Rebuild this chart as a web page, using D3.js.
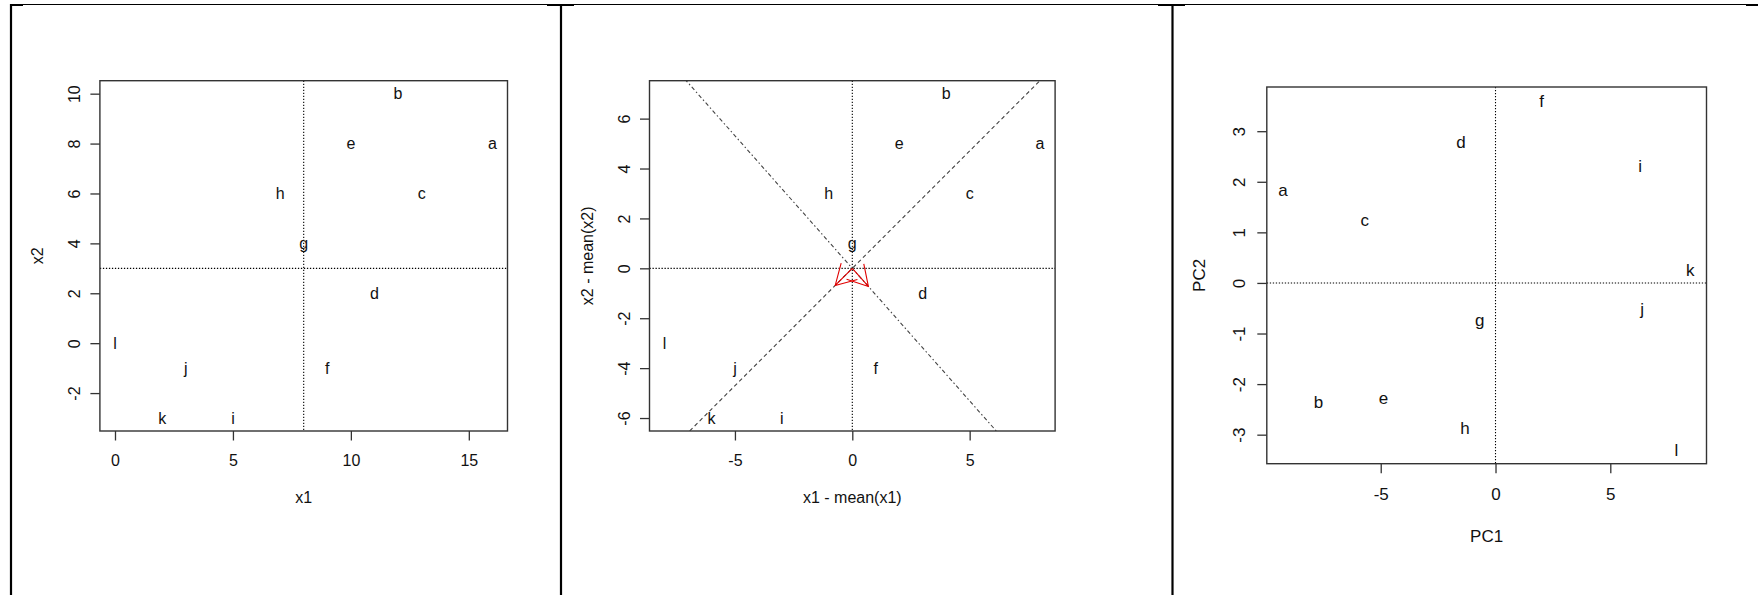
<!DOCTYPE html>
<html><head><meta charset="utf-8">
<script src="https://cdn.jsdelivr.net/npm/d3@7"></script>
<style>
html,body{margin:0;padding:0;background:#fff;}
svg text{font-family:"Liberation Sans",Arial,sans-serif;fill:#111;}
</style></head>
<body>
<svg id="c" width="1758" height="595"></svg>
<script>
// ---- data ----
const labels = ["a","b","c","d","e","f","g","h","i","j","k","l"];
const x1 = [16,12,13,11,10,9,8,7,5,3,2,0];
const x2 = [8,10,6,2,8,-1,4,6,-3,-1,-3,0];
const x1Mean = 8, x2Mean = 3;
const x1c = [8,4,5,3,2,1,0,-1,-3,-5,-6,-8];
const x2c = [5,7,3,-1,5,-4,1,3,-6,-4,-6,-3];
const pc1 = [-9.253,-7.710,-5.697,-1.499,-4.883,2.013,-0.685,-1.328,6.297,6.383,8.481,7.882];
const pc2 = [1.842,-2.356,1.242,2.784,-2.271,3.598,-0.728,-2.870,2.313,-0.514,0.257,-3.298];
const loadPC1 = [-0.728,-0.685];
const loadPC2 = [0.685,-0.728];
const ticks1x = [0,5,10,15], ticks1y = [-2,0,2,4,6,8,10];
const ticks2x = [-5,0,5],   ticks2y = [-6,-4,-2,0,2,4,6];
const ticks3x = [-5,0,5],   ticks3y = [-3,-2,-1,0,1,2,3];

const svg = d3.select("#c");
const fmt = d => String(d);

// ---- frame lines (screenshot borders) ----
const fr = svg.append("g");
fr.append("line").attr("x1",11).attr("x2",1748).attr("y1",4.5).attr("y2",4.5).attr("stroke","#000").attr("stroke-width",1.2);
[11,561,1172.5].forEach(x=>{
  fr.append("line").attr("x1",x).attr("x2",x).attr("y1",4).attr("y2",595).attr("stroke","#000").attr("stroke-width",2.2);
});
[[10,23],[547,574],[1158,1185],[1746,1758]].forEach(s=>{
  fr.append("rect").attr("x",s[0]).attr("y",4).attr("width",s[1]-s[0]).attr("height",2).attr("fill","#000");
});

function pad(ext){const r=ext[1]-ext[0];return [ext[0]-0.04*r, ext[1]+0.04*r];}

function panel(o){
  const g = svg.append("g");
  const xs = d3.scaleLinear().domain(pad(d3.extent(o.xv))).range([o.L,o.R]);
  const ys = d3.scaleLinear().domain(pad(d3.extent(o.yv))).range([o.B,o.T]);
  const fs = o.fs;
  const clipId = "clip"+o.id;
  g.append("clipPath").attr("id",clipId).append("rect")
    .attr("x",o.L).attr("y",o.T).attr("width",o.R-o.L).attr("height",o.B-o.T);
  const inner = g.append("g").attr("clip-path",`url(#${clipId})`);

  // reference lines (dotted)
  inner.append("line").attr("x1",xs(o.vx)).attr("x2",xs(o.vx)).attr("y1",o.T).attr("y2",o.B)
    .attr("stroke","#000").attr("stroke-width",1.1).attr("stroke-dasharray","1.3,1.7");
  inner.append("line").attr("x1",o.L).attr("x2",o.R).attr("y1",ys(o.hy)).attr("y2",ys(o.hy))
    .attr("stroke","#000").attr("stroke-width",1.1).attr("stroke-dasharray","1.3,1.7");

  if(o.extra) o.extra(inner, g, xs, ys);

  // labels as points
  g.append("g").selectAll("text").data(labels).join("text")
    .attr("x",(d,i)=>xs(o.xv[i])).attr("y",(d,i)=>ys(o.yv[i]))
    .attr("dy","0.36em").attr("text-anchor","middle").attr("font-size",fs).text(d=>d);

  // axes
  const ax = g.append("g").attr("transform",`translate(0,${o.B})`)
    .call(d3.axisBottom(xs).tickValues(o.tx).tickSize(o.tl).tickFormat(fmt));
  ax.select(".domain").remove();
  ax.selectAll("line").attr("stroke","#333").attr("stroke-width",1.3);
  ax.selectAll("text").attr("y",o.xlo).attr("dy",null).attr("font-size",fs).attr("fill","#111")
    .attr("font-family",'"Liberation Sans",Arial,sans-serif');
  const ay = g.append("g").attr("transform",`translate(${o.L},0)`)
    .call(d3.axisLeft(ys).tickValues(o.ty).tickSize(o.tl).tickFormat(fmt));
  ay.select(".domain").remove();
  ay.selectAll("line").attr("stroke","#333").attr("stroke-width",1.3);
  ay.selectAll("text").attr("transform","rotate(-90)").attr("x",0).attr("y",-o.ylo).attr("dy",null)
    .attr("text-anchor","middle").attr("font-size",fs).attr("fill","#111")
    .attr("font-family",'"Liberation Sans",Arial,sans-serif');

  // box
  g.append("rect").attr("x",o.L).attr("y",o.T).attr("width",o.R-o.L).attr("height",o.B-o.T)
    .attr("fill","none").attr("stroke","#333").attr("stroke-width",1.4);

  // titles
  g.append("text").attr("x",(o.L+o.R)/2).attr("y",o.B+o.xto).attr("text-anchor","middle").attr("font-size",fs).text(o.xt);
  g.append("text").attr("transform",`translate(${o.L-o.yto},${(o.T+o.B)/2}) rotate(-90)`)
    .attr("text-anchor","middle").attr("font-size",fs).text(o.yt);
}

panel({id:1,xv:x1,yv:x2,L:99.9,R:507.5,T:80.7,B:431,tx:ticks1x,ty:ticks1y,vx:x1Mean,hy:x2Mean,
  fs:16,tl:9.5,xlo:35,ylo:20.4,xto:72,yto:57.4,xt:"x1",yt:"x2"});

panel({id:2,xv:x1c,yv:x2c,L:649.5,R:1055.1,T:80.7,B:431,tx:ticks2x,ty:ticks2y,vx:0,hy:0,
  fs:16,tl:9.5,xlo:35,ylo:20,xto:72,yto:57,xt:"x1 - mean(x1)",yt:"x2 - mean(x2)",
  extra:(inner,g,xs,ys)=>{
    const s1 = loadPC1[1]/loadPC1[0], s2 = loadPC2[1]/loadPC2[0];
    inner.append("line").attr("x1",xs(-20)).attr("y1",ys(-20*s1)).attr("x2",xs(20)).attr("y2",ys(20*s1))
      .attr("stroke","#444").attr("stroke-width",1.1).attr("stroke-dasharray","4,3");
    inner.append("line").attr("x1",xs(-20)).attr("y1",ys(-20*s2)).attr("x2",xs(20)).attr("y2",ys(20*s2))
      .attr("stroke","#444").attr("stroke-width",1.1).attr("stroke-dasharray","1.5,2.5,4,2.5");
    // arrows from origin to the loading vectors
    [loadPC1,loadPC2].forEach(v=>{
      const x0=xs(0), y0=ys(0), xt=xs(v[0]), yt=ys(v[1]);
      const ang = Math.atan2(y0-yt, x0-xt);
      const len = 23, a = Math.PI/6;
      const p = d3.path();
      p.moveTo(x0,y0); p.lineTo(xt,yt);
      p.moveTo(xt+len*Math.cos(ang-a), yt+len*Math.sin(ang-a)); p.lineTo(xt,yt);
      p.lineTo(xt+len*Math.cos(ang+a), yt+len*Math.sin(ang+a));
      g.append("path").attr("d",p.toString()).attr("fill","none").attr("stroke","#e00000").attr("stroke-width",1.1);
    });
  }});

panel({id:3,xv:pc1,yv:pc2,L:1266.8,R:1706.5,T:87,B:463.7,tx:ticks3x,ty:ticks3y,vx:0,hy:0,
  fs:17,tl:9.5,xlo:36.3,ylo:22,xto:78,yto:61.8,xt:"PC1",yt:"PC2"});
</script>
</body></html>
